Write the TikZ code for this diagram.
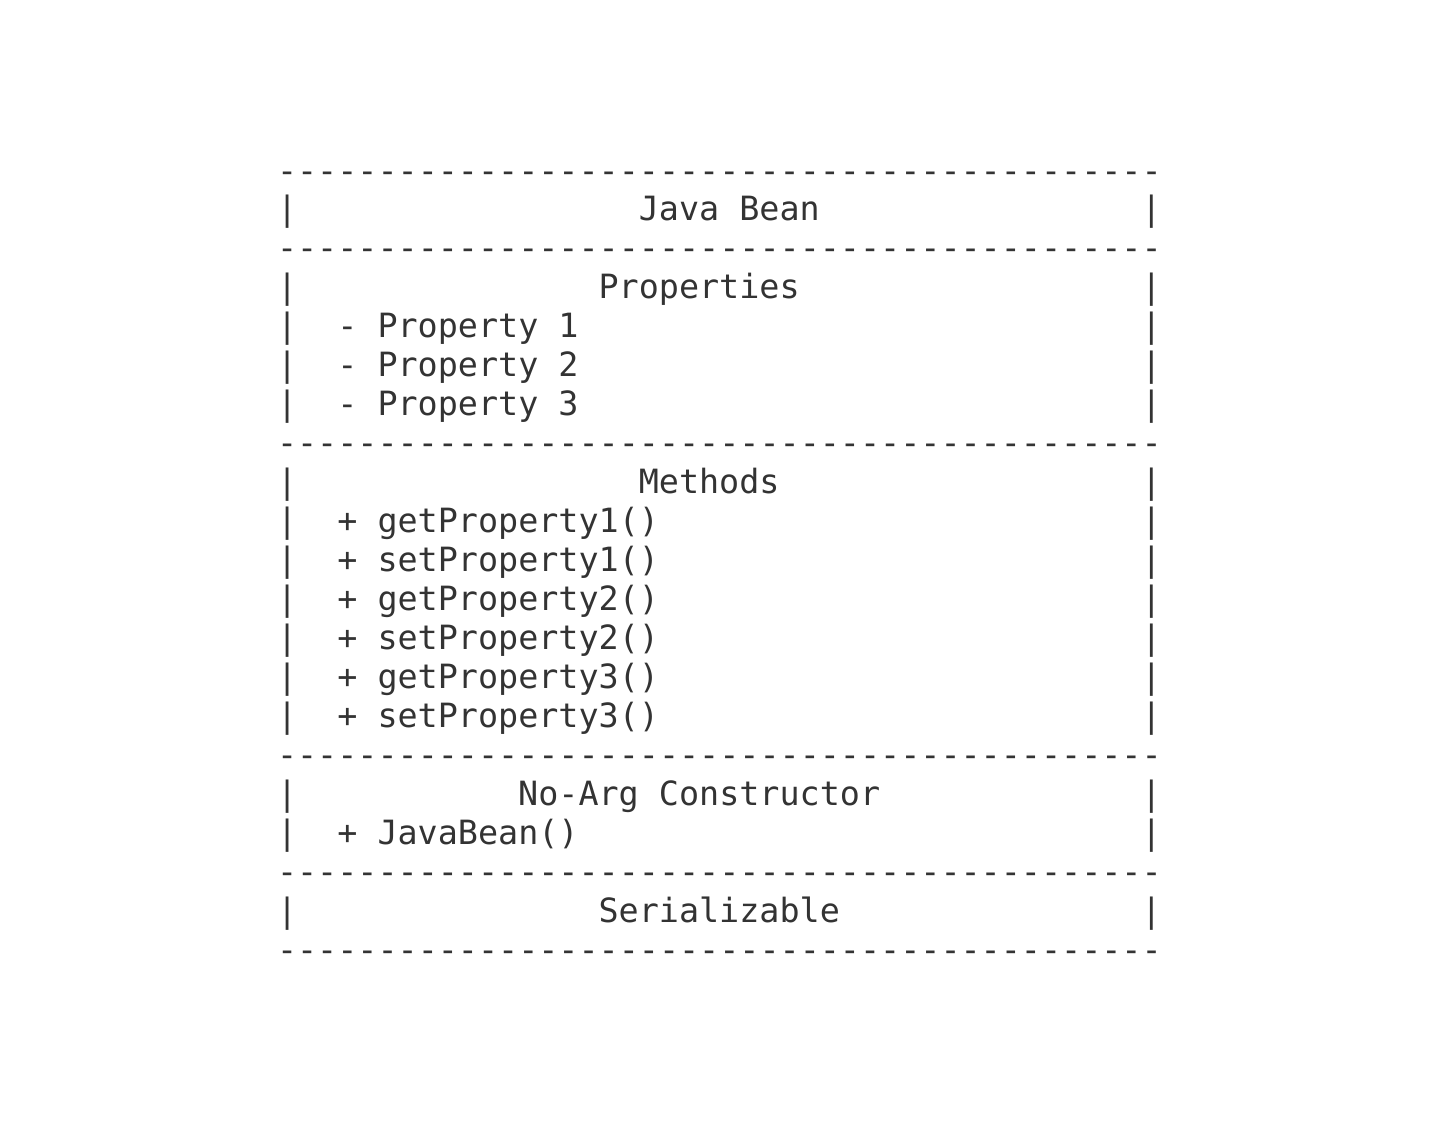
\documentclass[tikz,border=0pt]{standalone}
\usepackage{fontspec}
\setmonofont{DejaVu Sans Mono}
\definecolor{ink}{HTML}{333333}
\newcommand\hy{-\kern0pt}
\newcommand\hyfour{\hy\hy\hy\hy}
\newcommand\dashrow{\hyfour\hyfour\hyfour\hyfour\hyfour\hyfour\hyfour\hyfour\hyfour\hyfour\hyfour}
\tikzset{
  asc/.style={inner sep=0pt, outer sep=0pt, anchor=base west, text=ink,
    font=\ttfamily\fontsize{33.4}{40}\selectfont},
}
\begin{document}
\begin{tikzpicture}[x=1pt,y=-1pt]
\useasboundingbox (0,0) rectangle (1440,1124);
\def\xo{277}
\def\cw{20.1}
\def\yo{182}
\def\lh{38.95}
% dash rows
\foreach \r in {0,2,7,15,18,20}{
  \node[asc] (dash\r) at (\xo, {\yo+\lh*\r}) {\dashrow};
}
% side bars
\foreach \r in {1,3,4,5,6,8,9,10,11,12,13,14,16,17,19}{
  \node[asc] (bl\r) at (\xo, {\yo+\lh*\r}) {|};
  \node[asc] (br\r) at ({\xo+43*\cw}, {\yo+\lh*\r}) {|};
}
% texts
\node[asc] (title) at ({\xo+18*\cw}, {\yo+\lh*1}) {Java Bean};
\node[asc] (props) at ({\xo+16*\cw}, {\yo+\lh*3}) {Properties};
\node[asc] (p1) at ({\xo+3*\cw}, {\yo+\lh*4}) {- Property 1};
\node[asc] (p2) at ({\xo+3*\cw}, {\yo+\lh*5}) {- Property 2};
\node[asc] (p3) at ({\xo+3*\cw}, {\yo+\lh*6}) {- Property 3};
\node[asc] (meth) at ({\xo+18*\cw}, {\yo+\lh*8}) {Methods};
\node[asc] (m1) at ({\xo+3*\cw}, {\yo+\lh*9}) {+ getProperty1()};
\node[asc] (m2) at ({\xo+3*\cw}, {\yo+\lh*10}) {+ setProperty1()};
\node[asc] (m3) at ({\xo+3*\cw}, {\yo+\lh*11}) {+ getProperty2()};
\node[asc] (m4) at ({\xo+3*\cw}, {\yo+\lh*12}) {+ setProperty2()};
\node[asc] (m5) at ({\xo+3*\cw}, {\yo+\lh*13}) {+ getProperty3()};
\node[asc] (m6) at ({\xo+3*\cw}, {\yo+\lh*14}) {+ setProperty3()};
\node[asc] (ctor) at ({\xo+12*\cw}, {\yo+\lh*16}) {No-Arg Constructor};
\node[asc] (c1) at ({\xo+3*\cw}, {\yo+\lh*17}) {+ JavaBean()};
\node[asc] (ser) at ({\xo+16*\cw}, {\yo+\lh*19}) {Serializable};
\end{tikzpicture}
\end{document}
